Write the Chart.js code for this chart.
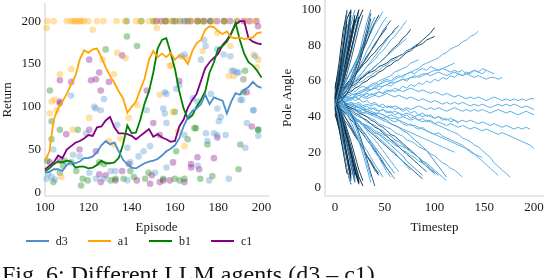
<!DOCTYPE html>
<html>
<head>
<meta charset="utf-8">
<script src="https://cdn.jsdelivr.net/npm/chart.js@4.4.0/dist/chart.umd.min.js"></script>
<style>
  body { margin: 0; background: #fff; }
  #page { position: relative; width: 544px; height: 278px; overflow: hidden; background: #fff; }
  #leftBox { position: absolute; left: 0; top: 0; width: 272px; height: 237px; }
  #rightBox { position: absolute; left: 272px; top: 0; width: 272px; height: 237px; }
  #legend { position: absolute; left: 3px; top: 233px; width: 272px; height: 16px; display: flex; justify-content: center; align-items: center;
            font: 12px "Liberation Serif", serif; color: #1a1a1a; }
  #legend .item { display: flex; align-items: center; margin: 0 10px; }
  #legend .swatch { width: 23px; height: 1.6px; margin-right: 7px; }
  #caption { position: absolute; left: 2px; top: 262px; font: 24px/24px "Liberation Serif", serif; color: #111; white-space: nowrap; }
</style>
</head>
<body>
<div id="page">
  <div id="leftBox"><canvas id="returnChart"></canvas></div>
  <div id="rightBox"><canvas id="angleChart"></canvas></div>
  <div id="legend"></div>
  <div id="caption">Fig. 6: Different LLM agents (d3 – c1)</div>
</div>
<script>
// Left chart: smoothed return per episode
const episodes = [100,102,104,106,108,110,112,114,116,118,120,122,124,126,128,130,132,134,136,138,140,
  142,144,146,148,150,152,154,156,158,160,162,164,166,168,170,172,174,176,178,180,182,184,186,188,190,
  192,194,196,198,200];
const d3Line = [23,24,27,27,25,32,35,34,36,40, 40,42,47,55,60,56,58,48,38,33, 29,28,31,34,36,37,39,43,48,51,
  55,63,77,88,95,98,103,114,103,111, 109,107,92,106,116,114,120,123,129,124, 122];
const a1Line = [37,48,85,98,106,115,126,136,155,166, 163,167,168,158,146,136,128,118,110,93, 100,106,120,133,155,165,158,162,158,163,
  155,160,157,150,165,174,178,190,194,193, 188,185,188,181,180,181,179,180,181,186, 187];
const b1Line = [25,28,33,36,35,37,36,29,30,30, 28,29,32,37,34,34,35,40,56,78, 69,70,85,104,118,140,168,178,180,163,
  144,118,98,86,90,100,108,118,140,152, 168,171,176,185,198,178,162,152,148,142, 134];
const c1Line = [27,31,35,43,40,50,54,58,60,63, 67,66,76,77,84,88,76,69,69,68, 66,62,66,70,74,65,68,64,62,59,
  60,77,85,99,108,115,130,145,152,157, 162,172,178,186,196,200,200,180,176,174, 173];

// raw returns per episode (episode, return)
const d3Dots = [[112,113],[123.4,98],[125.7,96],[127.2,109],[162,125],[174.2,171],[182.5,161],[186.3,142],[188.6,140],
  [191.6,132],[196.2,96],[179.5,167],[170.4,106],[155.3,117],[155.3,92],[146.9,96],[179.5,67],[162.9,159],[164.4,161],
  [172,155],[173.5,178],[160.6,121],[156.1,115],[168.2,110],[185.6,159],[187.2,142],[189.4,140],[197,159],[176.6,115],
  [190.2,108],[191,108],[196.3,96],[179.6,98],[181.1,88],[180.3,83],[193.2,81],[198.5,66],[178,69],[183.4,67],[175,60],
  [192.5,52],[170.5,31],[175.8,14],[184.9,16],[154.6,98],[156.1,81],[164.4,67],[174.3,69],[138,52],[145.5,48],
  [148.5,54],[143.2,42],[139.4,35],[150.8,23],[156.1,29],[138,14],[122.7,100],[118.9,69],[103.8,50],[112.9,44],
  [115.9,42],[120.4,23],[100.7,16],[104.5,15],[123.5,16],[127.2,16],[130.3,25],[132.5,25],[133.3,79],[101.5,22],[103,18]];
const a1Dots = [[101,200],[104,200],[110,200],[112,200],[113,200],[114,200],[115,200],[116,200],[117,200],[118,200],
  [120,200],[124,200],[127,200],[133,200],[137,200],[142,200],[144,200],[148,200],[151,200],[155,200],[158,200],
  [161,200],[167,200],[170,200],[173,200],[178,200],[183,200],[189,200],[193,200],[197,200],
  [100.7,192],[122,190],[112.1,144],[106.8,138],[131.8,138],[133.3,163],[104.5,108],[126.5,155],[151.6,192],[137.2,157],
  [157.6,148],[179.6,186],[172.8,165],[196.3,161],[198.5,155],[184.9,136],[187.2,136],[191.7,132],[197.8,146],
  [158.3,148],[165.1,157],[185.6,171],[103,106],[105.3,96],[102.2,92],[112.9,73],[120.4,87],[107.5,18],[129.5,60],
  [131.8,56],[134.8,63],[142.5,102],[153,114],[161.4,71],[164.4,54],[159.1,94],[138.6,87]];
const b1Dots = [[137.7,200],[144.5,200],[150,200],[155.5,200],[159,200],[162.3,200],[166,200],[170.5,200],[173,200],
  [176.4,200],[182.7,200],[188.6,200],
  [137.8,182],[128,167],[192.4,142],[102.2,119],[103,83],[106.8,73],[115.1,73],[198.4,73],[169.7,75],[191.6,117],
  [142.5,171],[103,62],[109,37],[112.1,35],[108.3,31],[106.8,23],[103.8,12],[114.4,25],[117.4,16],[119.7,14],
  [116.6,8],[125,35],[127.2,33],[130.3,14],[132.5,16],[136.3,16],[101,37],[139.4,25],[141,18],[146.2,16],[147.8,23],
  [154.6,16],[159.9,16],[162.2,14],[164.4,16],[159.9,94],[160.6,48],[165.9,62],[169,75],[175,56],[190.2,56],
  [189.4,27],[177.3,19],[171.7,16],[198.5,73]];
const c1Dots = [[151.4,200],[153.6,200],[155.9,200],[160,200],[164.5,200],[167.3,200],[170.5,200],[173.6,200],
  [176.4,200],[179.5,200],[182.7,200],[185.5,200],[191.8,200],[194.5,200],[197.7,200],
  [120.4,155],[125,140],[121.2,131],[123.5,132],[106.8,131],[112.1,129],[129.5,129],[125.7,119],[135.6,160],
  [106.8,106],[162,130],[198.4,194],[147,119],[193.2,117],[106.8,104],[106.8,37],[115.9,50],[123.5,48],[128,20],
  [125.7,12],[132.5,14],[102.2,35],[120.4,73],[150,81],[153,67],[159.1,35],[167.5,29],[171.2,27],[138.7,33],
  [149.3,20],[154.6,14],[157.6,14],[148.5,10],[179.6,64],[195.5,77],[178,40],[170.4,41],[109.8,68],[125,21],
  [135.6,25],[142.4,14],[153,12],[164.4,12],[167.4,33]];

const returnTicks = [0, 50, 100, 150, 200];
const episodeTicks = [100, 120, 140, 160, 180, 200];

// Right chart: pole angle per run, one value every poleStep timesteps
const poleStep = 4;
const poleRuns = [
  [50,62,78,95,100],
  [48,58,70,84,99],
  [52,66,83,100],
  [46,55,66,79,92,100],
  [55,70,88,99],
  [50,57,65,74,84,95],
  [44,52,61,71,82,94],
  [53,61,71,83,96],
  [49,56,64,73,83,91,98],
  [47,53,60,68,77,87,96],
  [51,58,67,77,90],
  [56,64,73,84,97],
  [45,50,57,64,72,81,90,97],
  [50,55,61,68,76,85,94],
  [54,59,66,74,83,92,100],
  [47,54,63,74,86,97],
  [52,60,70,81,93],
  [49,59,71,85,99],
  [53,63,75,89,100],
  [46,52,59,67,76,86,96],
  [51,56,62,69,77,86,95,100],
  [57,66,78,92],
  [48,55,63,72,82,93,100],
  [48,38,24,10,2],
  [45,34,21,8],
  [50,42,31,19,7],
  [44,36,27,16,5],
  [52,44,35,24,12,3],
  [47,41,33,24,14,4],
  [42,33,22,10,2],
  [49,43,36,28,19,10,3],
  [46,40,33,25,16,7],
  [51,46,39,31,22,12,4],
  [43,38,31,23,14,5],
  [48,44,38,31,23,14,6,1],
  [45,41,35,28,20,11,3],
  [50,45,40,33,26,18,10,4],
  [49,40,29,16,4],
  [51,44,35,25,14,4],
  [46,38,28,17,6],
  [53,46,38,29,19,9,2],
  [44,39,32,24,15,6],
  [47,42,36,29,21,13,5],
  [50,44,37,29,20,11,3],
  [41,35,27,18,8],
  [49,50,52,55,59,65,72,80,89,98],
  [51,52,54,57,62,68,75,84,93,100],
  [47,48,50,53,57,62,69,77,86,95],
  [50,49,47,44,40,35,29,22,14,6],
  [47,46,44,41,37,32,26,19,11,3],
  [52,51,49,46,42,37,31,24,16,8,1],
  [50,53,57,61,66,70,75,80,85,89,93],
  [47,50,54,58,62,67,72,77,82,88,93,97],
  [52,55,58,62,65,70,74,79,83,87,92,95,99],
  [49,51,54,57,61,64,68,72,77,81,85,89,93,96],
  [51,52,55,57,60,63,66,70,73,77,80,84,88,91,94],
  [50,53,57,61,65,70,75,80,86,91,96],
  [48,45,42,38,34,30,26,22,18,14,10,7],
  [46,44,41,38,35,31,28,24,21,17,13,10,6],
  [50,48,45,43,40,37,34,31,27,24,20,17,13,9,6],
  [44,42,39,36,33,29,26,22,18,15,11,8],
  [53,50,47,44,41,38,35,32,29,25,22,18,15,11,8,5],
  [47,46,43,41,38,36,33,30,27,24,21,18,14,11,8],
  [49,47,46,44,42,40,37,35,32,29,27,24,21,18,15,12,9],
  [48,50,52,55,57,60,62,65,68,71,74,77,80,83,86,88],
  [50,52,55,58,61,64,67,70,74,77,81,84,87,90],
  [48,47,45,43,40,38,35,32,29,26,23,20,17,14,11,8],
  [52,54,56,59,61,64,66,69,71,74,76,79,81,84,86,89,91],
  [46,45,44,42,41,39,37,36,34,32,30,28,26,24,22,20,17,15,12,10],
  [51,53,54,56,58,59,61,63,65,66,68,70,72,74,76,78,80,82,84],
  [49,47,45,43,41,39,37,35,33,31,29,27,25,23,21,19,17,15,13,11,9,7,5],
  [50,49,48,47,47,46,45,44,43,42,41,40,39,38,36,35,34,32,31,29,27,25,23,21,18,15,12,9,6],
  [48,50,51,53,54,56,57,59,60,62,63,65,66,68,69,71,72,74,76,77,79,81,83,85,87,90],
  [51,53,55,57,59,61,63,65,68,70,72,75,77,80,83,85,88,91,94],
  [50,51,53,54,56,57,59,60,62,63,65,66,68,69,71,72,74,75,77,78,80,81],
  [49,48,46,45,44,42,41,39,38,36,34,33,31,29,27,25,23,21,19,17,15,13,11,9],
  [47,46,45,44,43,41,40,39,37,36,35,33,32,30,29,27,26,24,22,21,19,17,15,13,11,9,7],
  [53,54,56,57,58,60,61,62,64,65,66,68,69,70,72,73,74,75,77,78,79,80,81,83,84,85],
  [45,44,42,41,40,38,37,36,34,33,31,30,29,27,26,24,23,21,20,18,17,15,14,12,10,9],
  [46,47,48,49,50,52,53,54,56,57,58,60,61,62,63,65,66,67,68,70,71,72],
  [49,48,47,46,45,44,42,41,40,38,37,35,34,32,30,29,27,25,23,21,19,17,14,12,10,8],
  [46,45,43,42,41,39,38,36,35,33,31,30,28,26,24,22,20,18,15,13,11,9,7],
  [50,52,53,55,57,58,60,62,64,66,68,70,72,74,77,79,81,84,86,89],
  [50,50,51,51,52,53,53,54,55,55,56,57,57,58,59,59,60,61,61,62,62,63,64,64,65,66,66,67,68,69,70],
  [52,51,52,50,51,49,50,48,49,47,48,46,47,45,46,44,45,43,44,42,43,41,42,40,41,39,40,38,39,37,38,36],
  [48,47,46,45,45,44,43,42,42,41,40,39,38,37,36,35,34,33,32,31,30,29,28,27,26,25,24,23,22,21,20],
  [49,48,48,47,46,46,45,44,44,43,42,42,41,40,39,39,38,37,36,35,35,34,33,32,31,30,29,28,27,26,25,24,23,22,20,19,18,17],
  [51,49,48,46,45,44,43,41,40,39,38,36,35,34,33,31,30,29,27,26,25,23,22,21,19,18,16,14,13,11,10,8,6],
  [45,44,43,42,40,39,38,36,35,34,32,31,30,29,27,26,24,23,22,20,19,17,15,14,12,10,8,6,4],
  [50,51,50,52,53,52,54,55,56,55,57,58,59,60,59,61,62,63,64,65,66,67,69,70,71,72,73,75,76,78,79,80,82,83,85,86,88],
  [48,49,48,50,49,51,50,52,51,53,52,54,53,55,54,56,55,57,56,58,57,59,58,60,59,61,60,62,61,63,62,64,63,65,64,66,65,67,66],
  [52,53,52,54,55,54,56,57,56,58,59,58,60,61,60,62,63,62,64,65,64,66,67,66,68,67,66,67,66,65,66,65,66,64,65,66,65,64,66,65,64],
  [48,49,50,51,50,52,53,52,54,55,56,55,57,58,57,59,60,61,60,62,63,62,63,64,63,64,65,64,63,64,65,64,63,64,63,62,63,62,61,62,62,61,62],
  [47,46,45,46,44,45,43,44,42,41,42,40,39,40,38,37,38,36,35,36,34,33,34,32,31,30,31,29,28,27,26,25,24,22,21,19,17,15,13,11,9,7],
  [50,49,48,47,48,46,47,45,46,44,45,43,44,42,43,41,42,40,41,39,40,38,39,37,38,36,35,34,33,32,31,30,28,27,26,24,23,21,19,17,14,12,10,8,6],
  [47,48,49,48,50,51,50,52,53,52,53,54,53,54,55,54,55,54,55,56,55,54,55,54,53,54,53,52,53,52,51,52,51,50,51,50,51,50,49,50,51,50,49,50,49,50,49,50,49,50,50],
  [49,48,49,47,48,47,48,46,47,46,47,46,45,46,45,46,45,44,45,44,45,46,45,44,45,44,45,44,43,44,45,44,43,44,43,44,43,44,43,42,43,44,43,42,43,42,41,42,43,42,41],
  [46,45,46,44,45,43,44,42,43,42,41,42,41,40,41,40,39,40,39,38,39,38,37,38,37,36,37,36,35,36,35,34,35,34,33,34,33,32,33,32,31,30,31,30,29,28,27,26,25,24,22],
  [50,51,50,49,50,51,52,51,50,51,52,51,52,53,52,51,52,51,50,51,50,49,50,49,48,49,48,47,48,47,48,47,48,47,46,47,46,47,46,45,46,47,46,47,46,47,46,45,46,45,44],
  [48,47,46,47,46,45,46,45,44,45,44,43,44,43,42,43,42,41,42,41,40,41,40,41,40,39,40,39,38,39,38,37,38,37,38,37,36,37,36,35,36,35,34,35,34,33,34,33,34,33]
];
const angleTicks = [0, 20, 40, 60, 80, 100];
const timestepTicks = [0, 50, 100, 150, 200];

const textColor = '#1a1a1a';
const serif = '"Liberation Serif", "Times New Roman", serif';
const tickFont = { family: serif, size: 13 };

function axis(min, max, ticks, title) {
    return {
        type: 'linear',
        min: min,
        max: max,
        afterBuildTicks: function (scale) {
            scale.ticks = ticks.map(v => ({ value: v }));
        },
        // let labels hang over the plot edges like the original
        afterFit: function (scale) {
            scale.paddingTop = 0;
            scale.paddingBottom = 0;
            scale.paddingLeft = 0;
            scale.paddingRight = 0;
        },
        grid: { display: false, drawTicks: false },
        border: { display: true, color: '#e6e6e6', width: 2 },
        ticks: { font: tickFont, color: textColor, padding: 4, maxRotation: 0, autoSkip: false },
        title: { display: true, text: title, font: tickFont, color: textColor, padding: { top: 0, bottom: 2 } }
    };
}

function fade(hex, a) {
    const n = parseInt(hex.slice(1), 16);
    return `rgba(${n >> 16}, ${(n >> 8) & 255}, ${n & 255}, ${a})`;
}

const agents = [
    { name: 'd3', line: d3Line, dots: d3Dots, color: '#4a8fcb' },
    { name: 'a1', line: a1Line, dots: a1Dots, color: '#ffa500' },
    { name: 'b1', line: b1Line, dots: b1Dots, color: '#008000' },
    { name: 'c1', line: c1Line, dots: c1Dots, color: '#800080' }
];

const lineSets = agents.map(a => ({
    type: 'line',
    label: a.name,
    data: episodes.map((e, i) => ({ x: e, y: a.line[i] })),
    borderColor: a.color,
    backgroundColor: a.color,
    borderWidth: 1.8,
    pointRadius: 0,
    tension: 0,
    clip: false
}));
const dotSets = agents.map(a => ({
    type: 'scatter',
    label: a.name + ' raw',
    data: a.dots.map(p => ({ x: p[0], y: p[1] })),
    backgroundColor: fade(a.color, 0.35),
    borderWidth: 0,
    pointRadius: 3.3,
    clip: false
}));

const returnChart = new Chart(document.getElementById('returnChart').getContext('2d'), {
    type: 'line',
    data: { datasets: lineSets.concat(dotSets) },
    options: {
        responsive: true,
        maintainAspectRatio: false,
        animation: false,
        layout: { padding: { left: 0, right: 0, top: 0, bottom: 0 } },
        plugins: { legend: { display: false }, tooltip: { enabled: false } },
        scales: {
            x: axis(100, 203, episodeTicks, 'Episode'),
            y: axis(-4, 220, returnTicks, 'Return')
        }
    }
});

// Legend under the left chart, built from the line datasets
const legendBox = document.getElementById('legend');
returnChart.data.datasets.slice(0, 4).forEach(ds => {
    const item = document.createElement('div');
    item.className = 'item';
    const swatch = document.createElement('span');
    swatch.className = 'swatch';
    swatch.style.background = ds.borderColor;
    const text = document.createElement('span');
    text.textContent = ds.label;
    item.appendChild(swatch);
    item.appendChild(text);
    legendBox.appendChild(item);
});

// run colours: short episodes dark, long ones light
function runColor(i, n) {
    if (n <= 8) return ['#0f2130', '#1f4763', '#2f6a95', '#4f9fd8', '#16303f'][i % 5];
    if (n <= 30) return ['#2a5f88', '#4b98d0', '#1f4763', '#5aafe6', '#5aafe6'][i % 5];
    return '#5aafe6';
}

const runSets = poleRuns.map((run, i) => ({
    label: 'run ' + (i + 1),
    data: run.map((v, k) => ({ x: k * poleStep, y: v })),
    borderColor: runColor(i, run.length),
    borderWidth: 1,
    pointRadius: 0,
    tension: 0
}));

new Chart(document.getElementById('angleChart').getContext('2d'), {
    type: 'line',
    data: { datasets: runSets },
    options: {
        responsive: true,
        maintainAspectRatio: false,
        animation: false,
        layout: { padding: { left: 8, right: 0, top: 0, bottom: 0 } },
        plugins: { legend: { display: false }, tooltip: { enabled: false } },
        scales: {
            x: axis(-10, 210, timestepTicks, 'Timestep'),
            y: axis(-4.5, 105.5, angleTicks, 'Pole Angle')
        }
    }
});
</script>
</body>
</html>
